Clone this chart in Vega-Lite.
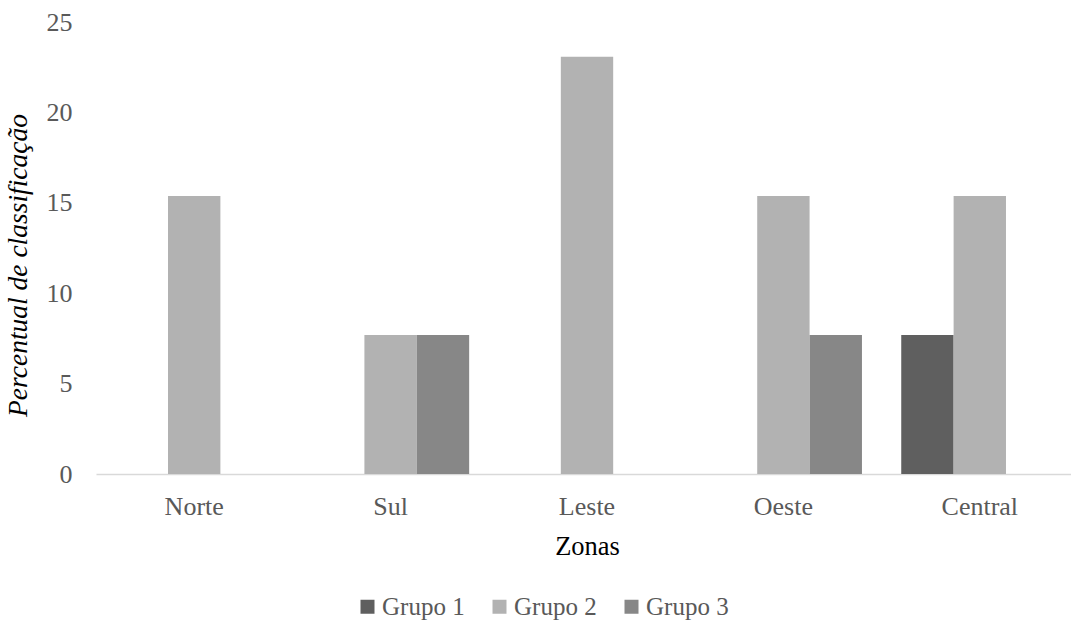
{
  "$schema": "https://vega.github.io/schema/vega-lite/v6.json",
  "autosize": {"type": "none"},
  "padding": {"left": 96, "top": 22, "right": 0, "bottom": 158},
  "width": 982,
  "height": 452,
  "background": "white",
  "config": {
    "font": "Liberation Serif",
    "view": {"stroke": null},
    "axis": {"labelFont": "Liberation Serif", "titleFont": "Liberation Serif", "labelColor": "#595959", "titleColor": "#000000", "grid": false, "ticks": false},
    "legend": {"labelFont": "Liberation Serif"}
  },
  "data": {
    "values": [
      {"zona": "Norte", "grupo": "Grupo 2", "valor": 15.38},
      {"zona": "Sul", "grupo": "Grupo 2", "valor": 7.69},
      {"zona": "Sul", "grupo": "Grupo 3", "valor": 7.69},
      {"zona": "Leste", "grupo": "Grupo 2", "valor": 23.08},
      {"zona": "Oeste", "grupo": "Grupo 2", "valor": 15.38},
      {"zona": "Oeste", "grupo": "Grupo 3", "valor": 7.69},
      {"zona": "Central", "grupo": "Grupo 1", "valor": 7.69},
      {"zona": "Central", "grupo": "Grupo 2", "valor": 15.38}
    ]
  },
  "mark": {"type": "bar"},
  "encoding": {
    "x": {
      "field": "zona", "type": "nominal",
      "sort": ["Norte", "Sul", "Leste", "Oeste", "Central"],
      "scale": {"paddingInner": 0.2, "paddingOuter": 0.1},
      "axis": {"title": "Zonas", "labelAngle": 0, "labelFontSize": 26, "labelPadding": 19, "titleFontSize": 26.5, "titleFontWeight": "normal", "titlePadding": 14, "domainColor": "#d9d9d9", "domainWidth": 1.5}
    },
    "xOffset": {
      "field": "grupo", "type": "nominal",
      "scale": {"domain": ["Grupo 1", "Grupo 2", "Grupo 3"], "paddingInner": 0, "paddingOuter": 0}
    },
    "y": {
      "field": "valor", "type": "quantitative",
      "scale": {"domain": [0, 25]},
      "axis": {"title": "Percentual de classificação", "values": [0, 5, 10, 15, 20, 25], "domain": false, "labelFontSize": 26, "labelPadding": 24, "titleFontSize": 27.5, "titleFontStyle": "italic", "titleFontWeight": "normal", "titlePadding": 14, "titleY": 243}
    },
    "color": {
      "field": "grupo", "type": "nominal",
      "scale": {"domain": ["Grupo 1", "Grupo 2", "Grupo 3"], "range": ["#5f5f5f", "#b2b2b2", "#878787"]},
      "legend": {"title": null, "orient": "none", "direction": "horizontal", "legendX": 259, "legendY": 572, "symbolType": "square", "symbolSize": 196, "symbolStrokeWidth": 0, "labelFontSize": 25, "labelColor": "#595959", "labelOffset": 2, "columnPadding": 22}
    }
  }
}
